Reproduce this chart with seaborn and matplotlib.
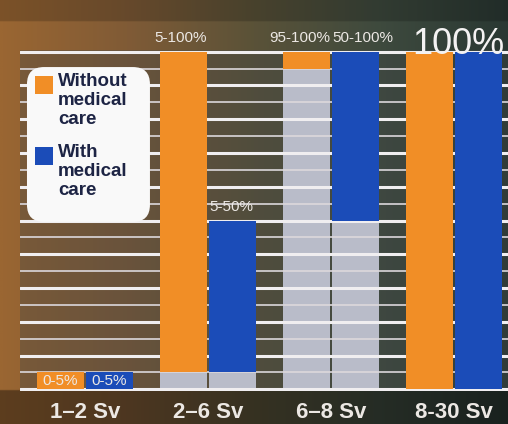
import matplotlib
matplotlib.use("Agg")
import matplotlib.pyplot as plt
from matplotlib import font_manager
from matplotlib.colors import LinearSegmentedColormap
from matplotlib.patches import FancyBboxPatch, Rectangle
from matplotlib.ticker import MultipleLocator
import numpy as np
import pandas as pd
import seaborn as sns

# data
categories = ["1–2 Sv", "2–6 Sv", "6–8 Sv", "8-30 Sv"]
series = ["Without\nmedical\ncare", "With\nmedical\ncare"]
without_low = [0, 5, 95, 0]
without_high = [5, 100, 100, 100]
with_low = [0, 5, 50, 0]
with_high = [5, 50, 100, 100]
without_labels = ["0-5%", "5-100%", "95-100%", ""]
with_labels = ["0-5%", "5-50%", "50-100%", ""]
group_labels = ["", "", "", "100%"]

ORANGE = "#f18e26"
BLUE = "#1b4cb8"
GRAY = "#b9bcc9"
LIGHT = "#ece8e4"
NAVY = "#1d2444"

sns.set_style("dark")
names = {f.name for f in font_manager.fontManager.ttflist}
NARROW = next((f for f in ["Liberation Sans Narrow", "DejaVu Sans Condensed"] if f in names),
              "Liberation Sans")
plt.rcParams["font.family"] = ["Liberation Sans", "DejaVu Sans"]

rows = []
for name, lows, highs, labs in [(series[0], without_low, without_high, without_labels),
                                (series[1], with_low, with_high, with_labels)]:
    for cat, lo, hi, lab in zip(categories, lows, highs, labs):
        rows.append({"category": cat, "series": name, "low": lo, "span": hi - lo, "label": lab})
df = pd.DataFrame(rows)

fig = plt.figure(figsize=(5.08, 4.24), dpi=100)

# photo-like backdrop: warm brown on the left fading into dark green-grey
bg = fig.add_axes([0, 0, 1, 1], zorder=-1)
cmap = LinearSegmentedColormap.from_list(
    "bg", ["#9a6632", "#805b36", "#5a5238", "#3e4a3e", "#2a3833"])
grad = cmap(np.linspace(0, 1, 300))[None, :, :3].repeat(200, axis=0)
shade = np.ones(200)
shade[:16] = 0.6           # strip under the baseline
shade[-10:] = 0.8          # top strip
grad = grad * shade[:, None, None]
bg.imshow(grad, aspect="auto", origin="lower", extent=[0, 1, 0, 1])
bg.set_axis_off()

ax = fig.add_axes([20 / 508, 33 / 424, 488 / 508, 341 / 424])
ax.set_facecolor((0.25, 0.27, 0.28, 0.35))

bar_kws = dict(order=categories, hue="series", hue_order=series, width=0.8, gap=0.04,
               saturation=1, legend=False, linewidth=0, ax=ax)

# grey part = share below the lower bound
sns.barplot(data=df, x="category", y="low", palette=[GRAY, GRAY], zorder=0.2, **bar_kws)
n_grey = len(ax.containers)

# coloured part = the range itself, lifted onto its lower bound
sns.barplot(data=df, x="category", y="span", palette=[ORANGE, BLUE], zorder=2, **bar_kws)
ranges = []
for name, container in zip(series, ax.containers[n_grey:]):
    sub = df[df["series"] == name]
    for bar, lo in zip(container.patches, sub["low"]):
        bar.set_y(lo)
    ranges.append((name, container, sub))

ax.set_xlim(-0.528, 3.439)
ax.set_ylim(-0.5, 100.5)
ax.yaxis.set_major_locator(MultipleLocator(10))
ax.yaxis.set_minor_locator(MultipleLocator(5))
ax.set_axisbelow(True)
ax.grid(which="major", axis="y", color="#f0eef0", lw=2.2)
ax.grid(which="minor", axis="y", color="#dcd8dc", lw=1.4, alpha=0.85)
ax.grid(axis="x", visible=False)
ax.tick_params(which="both", length=0, labelleft=False)
ax.tick_params(axis="x", pad=8)
ax.set_xlabel("")
ax.set_ylabel("")
sns.despine(ax=ax, left=True, bottom=True)
for lab in ax.get_xticklabels():
    lab.set_fontsize(16)
    lab.set_fontweight("bold")
    lab.set_color(LIGHT)

# range labels
for i, (name, container, sub) in enumerate(ranges):
    for bar, lab, lo, span in zip(container.patches, sub["label"], sub["low"], sub["span"]):
        if not lab:
            continue
        if lo + span <= 5:
            ax.text(bar.get_x() + bar.get_width() / 2, bar.get_y() + bar.get_height() / 2,
                    lab, ha="center", va="center", fontsize=11, color=LIGHT, zorder=5)
        else:
            x = bar.get_x() + bar.get_width() if i == 0 else bar.get_x()
            ax.annotate(lab, (x, bar.get_y() + bar.get_height()), xytext=(0, 5),
                        textcoords="offset points", ha="right" if i == 0 else "left",
                        va="bottom", fontsize=11, color=LIGHT, annotation_clip=False)

for pos, lab in enumerate(group_labels):
    if lab:
        ax.annotate(lab, (pos, 100), xytext=(3, -2), textcoords="offset points",
                    ha="center", va="baseline", fontsize=26,
                    family=[NARROW, "DejaVu Sans"],
                    color="#f4f2f2", zorder=6, annotation_clip=False)

# legend box
ax.add_patch(FancyBboxPatch((0.0143, 0.496), 0.252, 0.454, transform=ax.transAxes,
                            boxstyle="round,pad=0,rounding_size=0.035",
                            mutation_aspect=488 / 341, facecolor="#f9f9f9",
                            edgecolor="none", zorder=7, clip_on=False))
for k, (name, colour) in enumerate(zip(series, [ORANGE, BLUE])):
    top = 0.924 - k * 0.208
    ax.add_patch(Rectangle((0.031, top - 0.053), 0.037, 0.053, transform=ax.transAxes,
                           facecolor=colour, edgecolor="none", zorder=8, clip_on=False))
    ax.text(0.078, top + 0.008, name, transform=ax.transAxes, ha="left", va="top",
            fontsize=13.5, fontweight="bold", color=NAVY, linespacing=1.15, zorder=8)

fig.savefig("out.png", dpi=100)
